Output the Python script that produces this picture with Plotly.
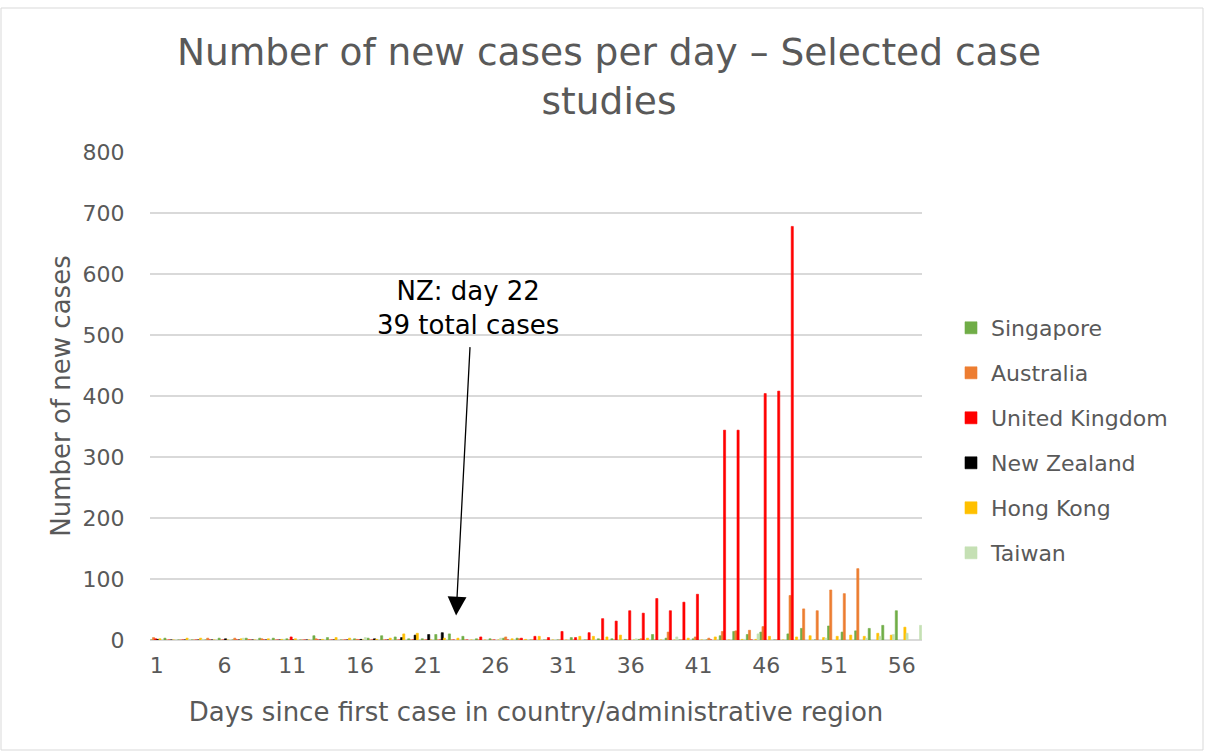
import plotly.graph_objects as go

days = list(range(1, 58))

singapore = [0, 3, 0, 0, 0, 3, 0, 3, 3, 3, 2, 0, 7, 4, 0, 2, 3, 7, 5, 2, 2, 9, 10, 6, 2, 2, 3, 3, 0, 0,
             0, 4, 0, 2, 2, 1, 1, 9, 3, 0, 2, 0, 7, 14, 9, 13, 0, 10, 19, 0, 23, 13, 15, 19, 24, 48]
australia = [4, 0, 0, 0, 3, 0, 3, 1, 2, 0, 0, 0, 2, 0, 0, 1, 0, 0, 0, 0, 0, 0, 0, 0, 0, 0, 5, 2, 0, 0,
             0, 0, 0, 0, 0, 0, 2, 0, 13, 0, 5, 3, 14, 15, 16, 22, 0, 73, 51, 48, 82, 76, 117]
united_kingdom = [2, 0, 0, 0, 0, 0, 0, 0, 0, 0, 5, 0, 0, 0, 0, 0, 0, 0, 0, 0, 0, 0, 0, 0, 5, 0, 0, 3, 6, 4,
                  14, 4, 12, 35, 31, 48, 44, 68, 48, 62, 75, 0, 344, 344, 0, 404, 408, 678]
new_zealand = [1, 0, 0, 0, 0, 2, 0, 0, 0, 0, 0, 0, 0, 0, 0, 1, 2, 0, 4, 8, 9, 12]
hong_kong = [2, 0, 3, 3, 0, 0, 2, 0, 2, 1, 2, 0, 1, 4, 3, 0, 1, 3, 10, 11, 0, 3, 3, 0, 0, 0, 2, 1, 6, 0,
             0, 6, 6, 5, 8, 0, 3, 0, 0, 3, 0, 5, 0, 1, 1, 6, 0, 5, 7, 4, 6, 8, 6, 11, 8, 21]
taiwan = [0, 0, 1, 1, 0, 0, 3, 0, 0, 1, 0, 0, 0, 0, 0, 4, 0, 0, 0, 0, 0, 0, 0, 0, 0, 3, 0, 0, 0, 0,
          0, 0, 0, 0, 0, 2, 0, 0, 5, 0, 0, 0, 0, 1, 10, 0, 0, 0, 0, 3, 0, 0, 3, 6, 9, 11, 24]

series = [
    ("Singapore", singapore, "#70AD47"),
    ("Australia", australia, "#ED7D31"),
    ("United Kingdom", united_kingdom, "#FF0000"),
    ("New Zealand", new_zealand, "#000000"),
    ("Hong Kong", hong_kong, "#FFC000"),
    ("Taiwan", taiwan, "#C5E0B4"),
]

tick_days = [1, 6, 11, 16, 21, 26, 31, 36, 41, 46, 51, 56]

FONT = "DejaVu Sans"
GREY = "#595959"

fig = go.Figure()
for i, (name, vals, col) in enumerate(series):
    fig.add_trace(go.Bar(
        x=days[:len(vals)], y=vals, name=name,
        marker=dict(color=col, line=dict(width=0.6, color=col)),
        legendgroup=f"g{i}",
    ))

# plot area geometry (pixels)
L, R, T, B = 150, 283, 152, 113
W, H = 1205, 753
pw, ph = W - L - R, H - T - B

fig.update_layout(
    width=W, height=H,
    margin=dict(l=L, r=R, t=T, b=B),
    paper_bgcolor="white", plot_bgcolor="white",
    barmode="group", bargap=0.05, bargroupgap=0,
    font=dict(family=FONT, color=GREY, size=22),
    title=dict(text="Number of new cases per day – Selected case<br>studies",
               x=609 / W, xanchor="center", xref="container",
               y=1 - 65 / H, yanchor="top", yref="container",
               font=dict(size=37.5, color=GREY, family=FONT)),
    xaxis=dict(range=[0.5, 57.5], tickmode="array", tickvals=tick_days,
               ticktext=[str(d) for d in tick_days],
               showgrid=False, zeroline=False, showline=False,
               ticks="outside", ticklen=6, tickcolor="rgba(0,0,0,0)",
               tickfont=dict(size=22, color=GREY),
               title=dict(text="Days since first case in country/administrative region",
                          font=dict(size=26, color=GREY), standoff=25)),
    yaxis=dict(range=[0, 800], dtick=100, showgrid=True, gridcolor="#D9D9D9", gridwidth=1.5,
               zeroline=True, zerolinecolor="#D9D9D9", zerolinewidth=1.5, showline=False,
               ticks="outside", ticklen=20, tickcolor="rgba(0,0,0,0)",
               tickfont=dict(size=22, color=GREY),
               title=dict(text="Number of new cases", font=dict(size=26, color=GREY), standoff=4)),
    legend=dict(x=(951 - L) / pw, xanchor="left", y=(H - B - 307) / ph, yanchor="top",
                font=dict(size=22, color=GREY), tracegroupgap=13.4,
                bgcolor="rgba(0,0,0,0)", traceorder="grouped"),
    showlegend=True,
)

# NZ annotation: arrow and text
fig.add_annotation(x=23.1, y=40, xref="x", yref="y", text="",
                   showarrow=True, arrowhead=2, arrowsize=2.9, arrowwidth=1.3,
                   arrowcolor="black", ax=14, ay=-270)
fig.add_annotation(x=24.0, y=544, xref="x", yref="y",
                   text="NZ: day 22<br>39 total cases", showarrow=False,
                   font=dict(size=26, color="black", family=FONT))

# chart border
fig.add_shape(type="rect", xref="paper", yref="paper",
              x0=(1 - L) / pw, x1=(1203 - L) / pw,
              y0=(H - B - 750) / ph, y1=(H - B - 8) / ph,
              line=dict(color="#D9D9D9", width=1), fillcolor="rgba(0,0,0,0)", layer="below")

fig.write_html("out.html", config={"displayModeBar": False})

# remove the default page margin so the figure sits at the window's top-left corner
with open("out.html", "r", encoding="utf-8") as f:
    html = f.read()
html = html.replace("<head>", "<head><style>html,body{margin:0;padding:0;overflow:hidden;}</style>", 1)
with open("out.html", "w", encoding="utf-8") as f:
    f.write(html)
